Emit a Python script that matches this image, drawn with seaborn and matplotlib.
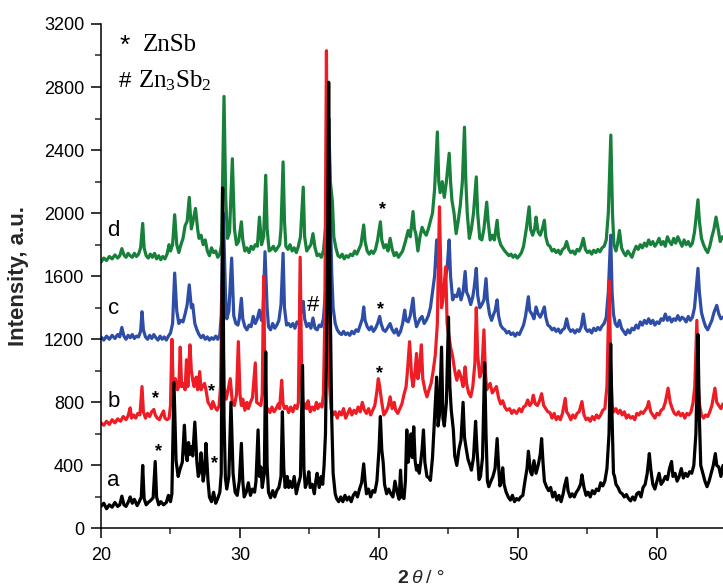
import matplotlib
matplotlib.use("Agg")
import matplotlib.pyplot as plt
import seaborn as sns
from matplotlib.ticker import MultipleLocator

# XRD patterns (2θ in degrees, intensity in a.u., offset per sample)
pattern_a = [
    (20.0, 140), (20.2, 160), (20.4, 125), (20.6, 150), (20.8, 135), (21.0, 165), (21.2, 140),
    (21.35, 150), (21.5, 205), (21.65, 150), (21.8, 140), (22.0, 175), (22.1, 200), (22.25, 160),
    (22.4, 185), (22.6, 145), (22.75, 170), (22.9, 200), (23.0, 400), (23.1, 190), (23.25, 150),
    (23.4, 165), (23.6, 180), (23.75, 195), (23.9, 425), (24.0, 200), (24.15, 150), (24.3, 170),
    (24.5, 150), (24.7, 165), (24.85, 210), (25.0, 170), (25.1, 220), (25.25, 925), (25.4, 430),
    (25.55, 330), (25.7, 380), (25.85, 420), (26.0, 655), (26.1, 480), (26.2, 430), (26.3, 545),
    (26.4, 470), (26.5, 520), (26.6, 460), (26.75, 675), (26.9, 420), (27.0, 330), (27.1, 360),
    (27.2, 480), (27.35, 300), (27.45, 360), (27.55, 540), (27.7, 300), (27.8, 200), (27.95, 170),
    (28.1, 230), (28.25, 160), (28.4, 190), (28.55, 230), (28.65, 350), (28.75, 2160), (28.85, 700),
    (28.95, 320), (29.05, 250), (29.2, 330), (29.35, 800), (29.5, 350), (29.65, 230), (29.8, 210),
    (29.95, 300), (30.1, 540), (30.2, 300), (30.3, 200), (30.45, 230), (30.6, 290), (30.75, 210),
    (30.9, 250), (31.05, 230), (31.15, 300), (31.3, 625), (31.4, 330), (31.5, 390), (31.6, 260),
    (31.75, 350), (31.85, 1120), (31.95, 400), (32.05, 230), (32.2, 195), (32.35, 240), (32.5, 200),
    (32.65, 240), (32.8, 260), (32.95, 330), (33.05, 740), (33.15, 380), (33.25, 260), (33.4, 330),
    (33.5, 260), (33.6, 300), (33.75, 260), (33.9, 330), (34.05, 220), (34.2, 280), (34.35, 330),
    (34.5, 1035), (34.6, 380), (34.7, 260), (34.85, 300), (34.95, 360), (35.05, 260), (35.2, 280),
    (35.35, 220), (35.45, 300), (35.55, 350), (35.7, 260), (35.85, 330), (35.95, 280), (36.05, 400),
    (36.15, 600), (36.28, 1500), (36.38, 2830), (36.48, 1500), (36.6, 700), (36.7, 350), (36.85, 220),
    (36.95, 190), (37.1, 170), (37.25, 200), (37.4, 170), (37.55, 210), (37.7, 180), (37.85, 200),
    (38.0, 170), (38.15, 210), (38.3, 230), (38.45, 200), (38.6, 250), (38.75, 290), (38.9, 410),
    (39.0, 300), (39.1, 220), (39.25, 250), (39.4, 200), (39.55, 240), (39.7, 230), (39.85, 300),
    (40.0, 500), (40.1, 710), (40.2, 500), (40.3, 420), (40.4, 280), (40.55, 220), (40.7, 250),
    (40.85, 220), (41.0, 200), (41.15, 300), (41.3, 230), (41.45, 185), (41.55, 370), (41.65, 200),
    (41.8, 190), (41.9, 300), (42.0, 625), (42.1, 420), (42.2, 500), (42.3, 600), (42.4, 450),
    (42.5, 645), (42.6, 430), (42.7, 370), (42.8, 400), (42.9, 350), (43.0, 420), (43.1, 500),
    (43.2, 625), (43.3, 420), (43.45, 330), (43.6, 320), (43.7, 305), (43.85, 450), (44.0, 700),
    (44.15, 960), (44.25, 650), (44.35, 720), (44.5, 1150), (44.6, 700), (44.7, 650), (44.85, 800),
    (45.0, 1340), (45.1, 900), (45.2, 750), (45.35, 625), (45.45, 460), (45.6, 400), (45.75, 500),
    (45.9, 560), (46.05, 800), (46.15, 580), (46.25, 520), (46.4, 440), (46.55, 400), (46.65, 370),
    (46.8, 450), (46.95, 680), (47.05, 500), (47.2, 310), (47.3, 330), (47.45, 450), (47.6, 1050),
    (47.7, 600), (47.8, 300), (47.9, 265), (48.05, 300), (48.2, 330), (48.35, 380), (48.5, 570),
    (48.6, 400), (48.7, 270), (48.8, 300), (48.9, 385), (49.0, 280), (49.15, 230), (49.3, 200),
    (49.45, 180), (49.6, 210), (49.75, 170), (49.9, 190), (50.05, 180), (50.2, 200), (50.35, 210),
    (50.5, 300), (50.65, 380), (50.75, 490), (50.9, 360), (51.0, 340), (51.15, 430), (51.3, 350),
    (51.45, 400), (51.6, 470), (51.7, 570), (51.8, 420), (51.9, 300), (52.05, 265), (52.2, 240),
    (52.35, 260), (52.5, 200), (52.65, 230), (52.8, 180), (52.95, 210), (53.1, 170), (53.25, 220),
    (53.35, 270), (53.5, 320), (53.6, 240), (53.75, 200), (53.9, 220), (54.05, 200), (54.2, 230),
    (54.35, 250), (54.5, 280), (54.6, 340), (54.75, 260), (54.9, 210), (55.05, 230), (55.2, 200),
    (55.35, 240), (55.5, 220), (55.65, 250), (55.8, 240), (55.95, 290), (56.1, 270), (56.25, 300),
    (56.4, 380), (56.55, 600), (56.67, 1170), (56.77, 700), (56.87, 350), (56.95, 330), (57.05, 280),
    (57.2, 260), (57.35, 230), (57.5, 220), (57.65, 200), (57.8, 215), (57.95, 190), (58.1, 175),
    (58.25, 200), (58.4, 180), (58.55, 220), (58.7, 230), (58.85, 200), (59.0, 260), (59.15, 280),
    (59.3, 350), (59.45, 475), (59.55, 380), (59.7, 280), (59.85, 250), (60.0, 300), (60.15, 350),
    (60.3, 280), (60.45, 300), (60.6, 330), (60.75, 310), (60.9, 380), (61.05, 425), (61.15, 330),
    (61.3, 350), (61.45, 300), (61.6, 330), (61.75, 380), (61.9, 320), (62.05, 350), (62.2, 330),
    (62.35, 360), (62.5, 350), (62.65, 400), (62.8, 600), (62.95, 1230), (63.05, 700), (63.15, 400),
    (63.3, 350), (63.45, 300), (63.6, 265), (63.75, 300), (63.9, 350), (64.05, 400), (64.2, 475),
    (64.3, 400), (64.45, 390), (64.6, 330), (64.75, 400), (65.0, 380),
]

pattern_b = [
    (20.0, 670), (20.2, 655), (20.4, 680), (20.6, 660), (20.8, 690), (21.0, 670), (21.2, 695),
    (21.4, 680), (21.6, 710), (21.8, 690), (21.95, 715), (22.1, 765), (22.2, 700), (22.35, 720),
    (22.5, 700), (22.65, 730), (22.8, 720), (22.95, 900), (23.05, 740), (23.2, 700), (23.35, 730),
    (23.5, 710), (23.65, 740), (23.8, 755), (23.9, 720), (24.05, 700), (24.2, 690), (24.35, 720),
    (24.5, 745), (24.6, 700), (24.75, 690), (24.9, 700), (25.0, 780), (25.1, 1200), (25.2, 880),
    (25.35, 950), (25.5, 880), (25.6, 900), (25.7, 1150), (25.8, 900), (25.9, 920), (26.05, 880),
    (26.15, 1070), (26.25, 900), (26.4, 1165), (26.5, 1000), (26.6, 940), (26.7, 900), (26.85, 960),
    (26.95, 880), (27.1, 995), (27.2, 880), (27.3, 900), (27.45, 920), (27.55, 880), (27.7, 800),
    (27.85, 780), (27.95, 760), (28.05, 805), (28.2, 770), (28.35, 750), (28.5, 780), (28.6, 900),
    (28.72, 1550), (28.85, 900), (29.0, 820), (29.1, 860), (29.3, 950), (29.45, 800), (29.6, 780),
    (29.75, 850), (29.88, 1185), (30.0, 850), (30.1, 780), (30.2, 820), (30.35, 750), (30.5, 800),
    (30.6, 760), (30.75, 800), (30.9, 830), (31.1, 1050), (31.2, 800), (31.35, 790), (31.5, 780),
    (31.6, 850), (31.7, 1600), (31.8, 900), (31.9, 740), (32.0, 760), (32.15, 735), (32.3, 770),
    (32.45, 740), (32.6, 760), (32.75, 790), (32.85, 760), (33.0, 940), (33.1, 790), (33.2, 760),
    (33.35, 775), (33.5, 735), (33.65, 770), (33.8, 740), (33.95, 780), (34.1, 760), (34.2, 800),
    (34.33, 1720), (34.45, 900), (34.55, 760), (34.7, 790), (34.8, 760), (34.9, 810), (35.05, 740),
    (35.2, 770), (35.35, 750), (35.5, 800), (35.6, 760), (35.75, 790), (35.9, 770), (36.0, 850),
    (36.1, 1300), (36.22, 3030), (36.32, 1500), (36.45, 900), (36.55, 760), (36.7, 720), (36.85, 740),
    (37.0, 700), (37.15, 740), (37.3, 720), (37.45, 760), (37.6, 700), (37.75, 730), (37.9, 760),
    (38.05, 720), (38.2, 750), (38.35, 730), (38.5, 770), (38.65, 740), (38.8, 800), (38.95, 750),
    (39.1, 730), (39.25, 760), (39.4, 720), (39.55, 750), (39.7, 780), (39.85, 870), (39.95, 950),
    (40.05, 900), (40.2, 800), (40.35, 720), (40.5, 740), (40.65, 770), (40.8, 835), (40.95, 760),
    (41.1, 800), (41.2, 750), (41.35, 730), (41.5, 760), (41.65, 790), (41.8, 850), (41.95, 900),
    (42.05, 1000), (42.2, 1185), (42.35, 960), (42.45, 900), (42.6, 1000), (42.7, 1110), (42.8, 950),
    (42.9, 1000), (43.05, 1165), (43.15, 950), (43.3, 880), (43.45, 835), (43.6, 880), (43.75, 920),
    (43.9, 1000), (44.05, 1100), (44.2, 1300), (44.35, 2040), (44.5, 1400), (44.6, 1450), (44.8, 1660),
    (44.9, 1300), (45.0, 1240), (45.15, 1150), (45.3, 1090), (45.45, 1000), (45.6, 940), (45.75, 1000),
    (45.9, 960), (46.05, 900), (46.2, 1025), (46.3, 920), (46.45, 860), (46.6, 835), (46.75, 900),
    (46.9, 1050), (47.0, 1400), (47.1, 1100), (47.25, 960), (47.4, 1000), (47.55, 1260), (47.65, 1000),
    (47.75, 880), (47.85, 900), (48.0, 920), (48.15, 860), (48.3, 880), (48.45, 900), (48.6, 830),
    (48.75, 790), (48.9, 810), (49.05, 770), (49.2, 750), (49.4, 760), (49.55, 730), (49.7, 750),
    (49.9, 730), (50.1, 760), (50.25, 740), (50.4, 770), (50.55, 780), (50.7, 815), (50.85, 780),
    (51.0, 800), (51.1, 845), (51.25, 790), (51.4, 780), (51.55, 810), (51.7, 855), (51.85, 780),
    (52.0, 760), (52.15, 740), (52.3, 735), (52.45, 700), (52.6, 730), (52.75, 690), (52.9, 710),
    (53.05, 690), (53.2, 730), (53.4, 825), (53.5, 740), (53.65, 720), (53.8, 690), (53.95, 720),
    (54.1, 700), (54.25, 730), (54.4, 740), (54.6, 805), (54.75, 720), (54.9, 690), (55.05, 700),
    (55.2, 680), (55.35, 710), (55.5, 690), (55.65, 720), (55.8, 700), (55.95, 720), (56.1, 750),
    (56.25, 760), (56.4, 900), (56.57, 1570), (56.67, 1000), (56.77, 780), (56.9, 740), (57.05, 760),
    (57.2, 730), (57.35, 750), (57.5, 720), (57.65, 740), (57.8, 700), (57.95, 720), (58.1, 700),
    (58.25, 710), (58.4, 690), (58.55, 730), (58.7, 720), (58.85, 740), (59.0, 730), (59.15, 750),
    (59.3, 770), (59.4, 805), (59.55, 740), (59.7, 720), (59.85, 700), (60.0, 730), (60.15, 720),
    (60.3, 750), (60.45, 760), (60.6, 800), (60.8, 890), (60.95, 800), (61.1, 760), (61.25, 730),
    (61.4, 720), (61.55, 740), (61.7, 715), (61.85, 730), (62.0, 700), (62.15, 730), (62.3, 720),
    (62.45, 740), (62.6, 800), (62.72, 900), (62.87, 1320), (62.97, 900), (63.07, 780), (63.2, 720),
    (63.35, 700), (63.5, 720), (63.65, 710), (63.8, 740), (63.95, 780), (64.05, 830), (64.17, 890),
    (64.3, 800), (64.45, 780), (64.6, 760), (64.75, 790), (65.0, 770),
]

pattern_c = [
    (20.0, 1215), (20.2, 1195), (20.4, 1220), (20.6, 1200), (20.8, 1225), (21.0, 1205), (21.2, 1230),
    (21.35, 1215), (21.5, 1275), (21.65, 1220), (21.8, 1200), (21.95, 1225), (22.1, 1210), (22.25, 1230),
    (22.4, 1205), (22.55, 1220), (22.7, 1215), (22.85, 1250), (22.95, 1375), (23.05, 1260), (23.2, 1215),
    (23.35, 1200), (23.5, 1225), (23.65, 1205), (23.8, 1230), (23.95, 1210), (24.1, 1195), (24.25, 1220),
    (24.4, 1200), (24.55, 1215), (24.7, 1195), (24.85, 1220), (25.0, 1240), (25.15, 1300), (25.3, 1620),
    (25.45, 1380), (25.6, 1300), (25.75, 1320), (25.9, 1310), (26.05, 1360), (26.2, 1420), (26.35, 1545),
    (26.5, 1400), (26.6, 1420), (26.75, 1300), (26.9, 1260), (27.05, 1230), (27.2, 1210), (27.35, 1225),
    (27.5, 1200), (27.65, 1215), (27.8, 1195), (27.95, 1210), (28.1, 1200), (28.25, 1220), (28.4, 1200),
    (28.55, 1230), (28.65, 1350), (28.8, 2000), (28.95, 1500), (29.05, 1330), (29.2, 1380), (29.4, 1715),
    (29.55, 1350), (29.7, 1300), (29.85, 1290), (29.95, 1330), (30.1, 1460), (30.2, 1330), (30.35, 1280),
    (30.5, 1260), (30.65, 1290), (30.8, 1280), (30.95, 1345), (31.1, 1300), (31.25, 1330), (31.4, 1385),
    (31.55, 1320), (31.65, 1350), (31.8, 1755), (31.95, 1400), (32.05, 1280), (32.2, 1260), (32.35, 1300),
    (32.5, 1270), (32.65, 1290), (32.8, 1320), (32.95, 1420), (33.1, 1745), (33.2, 1400), (33.35, 1290),
    (33.5, 1300), (33.65, 1280), (33.8, 1300), (33.95, 1270), (34.1, 1310), (34.25, 1300), (34.4, 1380),
    (34.55, 1440), (34.65, 1330), (34.8, 1280), (34.95, 1300), (35.1, 1270), (35.25, 1335), (35.4, 1270),
    (35.55, 1260), (35.7, 1290), (35.85, 1280), (36.0, 1330), (36.15, 1500), (36.28, 2200), (36.38, 2600),
    (36.5, 2000), (36.6, 1620), (36.7, 1400), (36.85, 1300), (37.0, 1260), (37.15, 1240), (37.3, 1230),
    (37.45, 1250), (37.6, 1230), (37.75, 1240), (37.9, 1225), (38.05, 1250), (38.2, 1235), (38.35, 1260),
    (38.5, 1250), (38.65, 1290), (38.8, 1330), (38.9, 1405), (39.0, 1320), (39.15, 1280), (39.3, 1260),
    (39.45, 1280), (39.6, 1250), (39.75, 1270), (39.9, 1300), (40.05, 1345), (40.15, 1300), (40.3, 1260),
    (40.45, 1250), (40.6, 1270), (40.8, 1300), (40.95, 1260), (41.1, 1240), (41.25, 1265), (41.4, 1225),
    (41.55, 1250), (41.7, 1300), (41.85, 1385), (41.95, 1320), (42.1, 1310), (42.25, 1350), (42.45, 1460),
    (42.55, 1350), (42.7, 1280), (42.8, 1300), (42.95, 1330), (43.1, 1345), (43.25, 1300), (43.4, 1320),
    (43.55, 1350), (43.7, 1400), (43.85, 1500), (44.0, 1600), (44.15, 1830), (44.3, 1620), (44.4, 1560),
    (44.55, 1520), (44.7, 1540), (44.9, 1650), (45.05, 1830), (45.15, 1600), (45.3, 1450), (45.45, 1480),
    (45.6, 1470), (45.75, 1520), (45.9, 1450), (46.05, 1500), (46.2, 1630), (46.3, 1500), (46.45, 1470),
    (46.6, 1420), (46.75, 1470), (46.85, 1530), (47.0, 1650), (47.1, 1480), (47.25, 1400), (47.4, 1420),
    (47.55, 1450), (47.7, 1585), (47.8, 1450), (47.95, 1360), (48.1, 1320), (48.25, 1360), (48.35, 1380),
    (48.5, 1450), (48.6, 1350), (48.75, 1290), (48.9, 1270), (49.05, 1260), (49.2, 1240), (49.35, 1250),
    (49.5, 1230), (49.65, 1240), (49.8, 1220), (49.95, 1240), (50.1, 1230), (50.25, 1260), (50.4, 1290),
    (50.55, 1350), (50.75, 1470), (50.85, 1380), (51.0, 1360), (51.15, 1330), (51.3, 1405), (51.45, 1360),
    (51.6, 1340), (51.75, 1370), (51.9, 1405), (52.0, 1340), (52.15, 1290), (52.3, 1280), (52.45, 1260),
    (52.6, 1270), (52.75, 1250), (52.9, 1265), (53.05, 1240), (53.2, 1260), (53.35, 1270), (53.5, 1330),
    (53.65, 1270), (53.8, 1250), (53.95, 1260), (54.1, 1240), (54.25, 1260), (54.4, 1250), (54.55, 1280),
    (54.7, 1360), (54.85, 1270), (55.0, 1250), (55.15, 1260), (55.3, 1240), (55.45, 1270), (55.6, 1255),
    (55.75, 1275), (55.9, 1260), (56.05, 1285), (56.2, 1300), (56.35, 1340), (56.5, 1500), (56.67, 1860),
    (56.77, 1500), (56.87, 1360), (57.0, 1300), (57.15, 1280), (57.3, 1320), (57.45, 1270), (57.6, 1250),
    (57.75, 1230), (57.9, 1260), (58.05, 1240), (58.2, 1270), (58.35, 1260), (58.5, 1290), (58.65, 1270),
    (58.8, 1310), (58.95, 1290), (59.1, 1320), (59.25, 1300), (59.4, 1330), (59.55, 1300), (59.7, 1320),
    (59.85, 1290), (60.0, 1310), (60.15, 1300), (60.3, 1330), (60.45, 1320), (60.6, 1360), (60.75, 1320),
    (60.9, 1340), (61.05, 1310), (61.2, 1330), (61.35, 1320), (61.5, 1350), (61.65, 1320), (61.8, 1340),
    (61.95, 1330), (62.1, 1310), (62.25, 1345), (62.4, 1320), (62.55, 1340), (62.7, 1400), (62.85, 1550),
    (62.95, 1650), (63.05, 1500), (63.2, 1370), (63.35, 1320), (63.5, 1280), (63.65, 1260), (63.8, 1290),
    (63.95, 1320), (64.1, 1370), (64.3, 1415), (64.45, 1360), (64.6, 1330), (64.75, 1340), (65.0, 1330),
]

pattern_d = [
    (20.0, 1690), (20.2, 1715), (20.4, 1700), (20.6, 1725), (20.8, 1710), (21.0, 1735), (21.2, 1715),
    (21.35, 1730), (21.5, 1775), (21.65, 1735), (21.8, 1720), (21.95, 1745), (22.1, 1730), (22.25, 1720),
    (22.4, 1745), (22.55, 1725), (22.7, 1740), (22.85, 1780), (23.0, 1935), (23.1, 1780), (23.25, 1730),
    (23.4, 1715), (23.55, 1740), (23.7, 1720), (23.85, 1745), (24.0, 1710), (24.15, 1730), (24.3, 1705),
    (24.45, 1725), (24.6, 1710), (24.75, 1740), (24.9, 1800), (25.0, 1760), (25.15, 1800), (25.3, 1990),
    (25.45, 1800), (25.6, 1750), (25.75, 1800), (25.9, 1840), (26.05, 1920), (26.2, 1950), (26.35, 2100),
    (26.5, 1900), (26.6, 1940), (26.8, 2030), (26.95, 1900), (27.05, 1840), (27.2, 1860), (27.35, 1800),
    (27.5, 1830), (27.65, 1760), (27.8, 1730), (27.95, 1780), (28.1, 1750), (28.25, 1760), (28.4, 1720),
    (28.55, 1740), (28.67, 1800), (28.85, 2740), (28.97, 2100), (29.1, 1840), (29.25, 1880), (29.45, 2345),
    (29.6, 1900), (29.75, 1800), (29.9, 1820), (30.1, 1945), (30.2, 1830), (30.35, 1760), (30.5, 1780),
    (30.65, 1750), (30.8, 1790), (30.95, 1770), (31.1, 1800), (31.25, 1790), (31.4, 1975), (31.55, 1800),
    (31.7, 1850), (31.85, 2240), (31.95, 1900), (32.1, 1760), (32.25, 1770), (32.4, 1790), (32.55, 1760),
    (32.7, 1780), (32.85, 1800), (32.95, 1900), (33.1, 2325), (33.2, 1950), (33.3, 1790), (33.45, 1770),
    (33.6, 1800), (33.75, 1760), (33.9, 1780), (34.05, 1750), (34.2, 1790), (34.35, 1850), (34.55, 2165),
    (34.65, 1850), (34.8, 1760), (34.95, 1780), (35.1, 1800), (35.25, 1870), (35.4, 1780), (35.55, 1730),
    (35.7, 1740), (35.85, 1720), (36.0, 1760), (36.15, 1900), (36.28, 2350), (36.38, 2600), (36.5, 2200),
    (36.65, 2070), (36.75, 1850), (36.9, 1780), (37.05, 1730), (37.2, 1720), (37.35, 1740), (37.5, 1710),
    (37.65, 1730), (37.8, 1720), (37.95, 1740), (38.1, 1730), (38.25, 1760), (38.4, 1740), (38.55, 1770),
    (38.7, 1800), (38.9, 1925), (39.0, 1820), (39.15, 1760), (39.3, 1740), (39.45, 1760), (39.6, 1745),
    (39.75, 1770), (39.9, 1830), (40.1, 1945), (40.2, 1830), (40.35, 1780), (40.5, 1800), (40.65, 1760),
    (40.8, 1840), (40.95, 1770), (41.1, 1730), (41.25, 1750), (41.4, 1720), (41.55, 1740), (41.7, 1760),
    (41.9, 1820), (42.1, 1890), (42.25, 1850), (42.45, 2010), (42.55, 1900), (42.65, 1870), (42.8, 1760),
    (42.95, 1850), (43.1, 1910), (43.25, 1880), (43.4, 1860), (43.55, 1900), (43.7, 1950), (43.85, 2000),
    (44.0, 2150), (44.2, 2515), (44.3, 2200), (44.4, 2130), (44.55, 2200), (44.7, 2100), (44.85, 2200),
    (45.05, 2380), (45.15, 2200), (45.25, 2080), (45.4, 2000), (45.55, 1870), (45.7, 1950), (45.85, 2050),
    (46.0, 2200), (46.15, 2545), (46.25, 2200), (46.35, 2000), (46.5, 1840), (46.65, 1900), (46.8, 2000),
    (47.0, 2230), (47.1, 2000), (47.25, 1840), (47.4, 1830), (47.55, 1900), (47.75, 2070), (47.85, 1950),
    (48.0, 1830), (48.15, 1860), (48.3, 1830), (48.5, 1955), (48.6, 1850), (48.75, 1800), (48.9, 1780),
    (49.05, 1760), (49.2, 1745), (49.35, 1730), (49.5, 1740), (49.65, 1720), (49.8, 1735), (49.95, 1715),
    (50.1, 1730), (50.25, 1750), (50.4, 1790), (50.6, 1900), (50.8, 2040), (50.9, 1900), (51.05, 1860),
    (51.2, 1900), (51.3, 1975), (51.45, 1880), (51.6, 1860), (51.75, 1900), (51.9, 1955), (52.0, 1850),
    (52.15, 1800), (52.3, 1790), (52.45, 1760), (52.6, 1770), (52.75, 1750), (52.9, 1765), (53.05, 1740),
    (53.2, 1770), (53.35, 1780), (53.5, 1820), (53.65, 1770), (53.8, 1750), (53.95, 1760), (54.1, 1740),
    (54.25, 1770), (54.4, 1760), (54.55, 1790), (54.7, 1840), (54.85, 1770), (55.0, 1750), (55.15, 1760),
    (55.3, 1740), (55.45, 1765), (55.6, 1750), (55.75, 1770), (55.9, 1755), (56.05, 1780), (56.2, 1790),
    (56.35, 1830), (56.5, 2000), (56.68, 2495), (56.8, 2000), (56.9, 1800), (57.05, 1760), (57.15, 1800),
    (57.3, 1890), (57.45, 1780), (57.6, 1750), (57.75, 1730), (57.9, 1760), (58.05, 1740), (58.2, 1720),
    (58.35, 1760), (58.5, 1790), (58.65, 1770), (58.8, 1800), (58.95, 1780), (59.1, 1810), (59.25, 1790),
    (59.4, 1830), (59.55, 1800), (59.7, 1820), (59.85, 1790), (60.0, 1810), (60.15, 1840), (60.3, 1800),
    (60.45, 1820), (60.6, 1790), (60.75, 1850), (60.9, 1820), (61.05, 1800), (61.2, 1840), (61.35, 1810),
    (61.5, 1850), (61.65, 1820), (61.8, 1790), (61.95, 1830), (62.1, 1800), (62.25, 1820), (62.4, 1790),
    (62.55, 1810), (62.7, 1880), (62.85, 2000), (62.95, 2085), (63.05, 1950), (63.2, 1840), (63.35, 1800),
    (63.5, 1770), (63.65, 1750), (63.8, 1790), (63.95, 1850), (64.1, 1900), (64.25, 1975), (64.4, 1900),
    (64.55, 1820), (64.7, 1850), (65.0, 1830),
]

sample_labels = ["a", "b", "c", "d"]
sample_label_y = [307, 804, 1398, 1893]

# reflection markers: (2θ, intensity) of each symbol's centre
znsb_marks = [(23.9, 861), (24.12, 523), (27.96, 904), (28.2, 449), (40.02, 1022), (40.14, 1424), (40.26, 2062)]
zn3sb2_marks = [(35.27, 1432)]

GREEN = "#17803A"
BLUE = "#2E4DA6"
RED = "#EE1C24"
BLACK = "#000000"

sns.set_style("ticks")
plt.rcParams["font.family"] = ["Liberation Sans", "DejaVu Sans"]
plt.rcParams["mathtext.default"] = "regular"

fig = plt.figure(figsize=(7.23, 5.87), dpi=100)
ax = fig.add_axes([0.1397, 0.0997, 0.8651, 0.8595])

for pattern, colour in [(pattern_d, GREEN), (pattern_c, BLUE), (pattern_b, RED), (pattern_a, BLACK)]:
    xs = [p[0] for p in pattern]
    ys = [p[1] for p in pattern]
    sns.lineplot(x=xs, y=ys, color=colour, linewidth=2.3, ax=ax,
                 sort=False, estimator=None, legend=False)

ax.set_xlim(20, 65)
ax.set_ylim(0, 3200)
ax.xaxis.set_major_locator(MultipleLocator(10))
ax.xaxis.set_minor_locator(MultipleLocator(5))
ax.yaxis.set_major_locator(MultipleLocator(400))
ax.yaxis.set_minor_locator(MultipleLocator(200))
ax.tick_params(which="major", direction="out", length=7, width=1.1, labelsize=13, colors="black")
ax.tick_params(which="minor", direction="out", length=4, width=1.1)
ax.tick_params(axis="y", pad=5)
ax.tick_params(axis="x", pad=6)
for side in ("top", "right"):
    ax.spines[side].set_visible(False)
for side in ("left", "bottom"):
    ax.spines[side].set_linewidth(1.1)
    ax.spines[side].set_color("black")
ax.set_xlabel("")
ax.set_ylabel("")

# sample letters
for lab, yv in zip(sample_labels, sample_label_y):
    ax.text(20.9, yv, lab, fontsize=16, ha="center", va="center", color="black")

# phase markers
for x, y in znsb_marks:
    ax.text(x, y - 67, "*", fontsize=13, fontweight="bold", ha="center", va="baseline", color="black")
for x, y in zn3sb2_marks:
    ax.text(x, y - 51, "#", fontsize=16, ha="center", va="baseline", color="black")

# phase key
ax.text(21.73, 3110 - 95, "*", fontsize=19, ha="center", va="baseline", color="black")
ax.text(23.0, 3030, "ZnSb", fontsize=18, ha="left", va="baseline",
        family=["Liberation Serif", "DejaVu Serif"], color="black")
ax.text(21.73, 2800, "#", fontsize=16, ha="center", va="baseline", color="black")
ax.text(22.66, 2795, "Zn$_3$Sb$_2$", fontsize=18, ha="left", va="baseline",
        family=["Liberation Serif", "DejaVu Serif"], color="black")

# axis titles
fig.text(19 / 723, 1 - 276 / 587, "Intensity, a.u.", rotation=90, fontsize=16,
         fontweight="bold", ha="center", va="center")
base = 1 - 583 / 587
fig.text(397 / 723, base, "2", fontsize=14, fontweight="bold", ha="left", va="baseline")
fig.text(411 / 723, base, "θ", fontsize=14, fontstyle="italic", ha="left", va="baseline")
fig.text(426 / 723, base, "/ °", fontsize=14, ha="left", va="baseline")

fig.savefig("out.png", dpi=100)
